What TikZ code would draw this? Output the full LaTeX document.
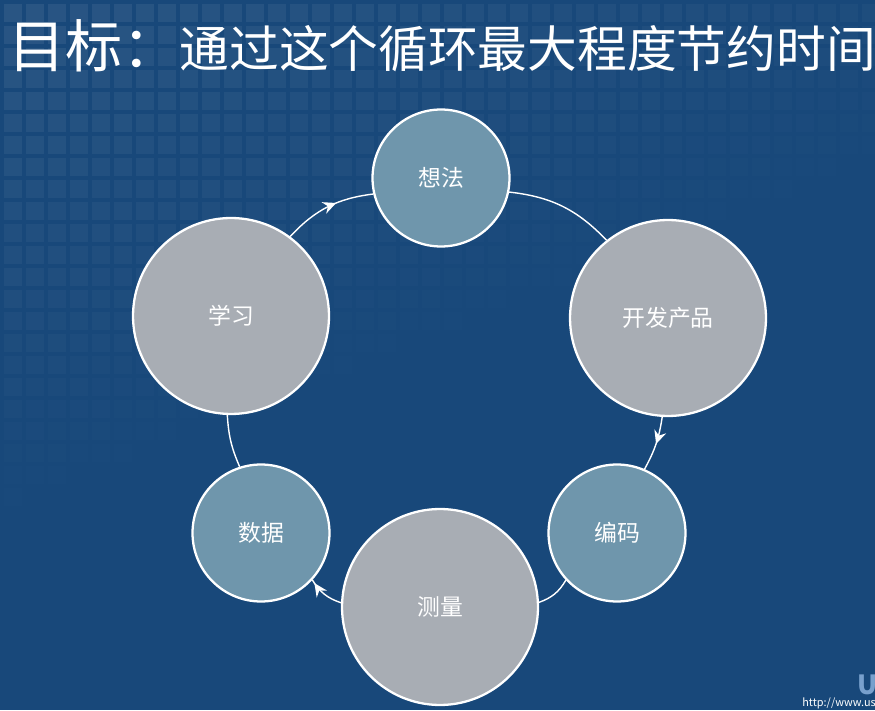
\documentclass[tikz,border=0pt]{standalone}
\usepackage{fontspec}
\setmainfont{Noto Sans CJK SC}
\usetikzlibrary{arrows.meta, decorations.markings}
\definecolor{bgblue}{RGB}{24,72,122}
\definecolor{ideafill}{RGB}{111,150,172}
\definecolor{stagefill}{RGB}{168,173,180}
\definecolor{markblue}{RGB}{120,160,205}
\tikzstyle{link} = [draw=white, line width=0.8pt]

\begin{document}
\begin{tikzpicture}[
  x=0.02cm, y=0.02cm,
  font=\fontsize{13}{15}\selectfont,
  smallcirc/.style={circle, draw=white, line width=1.3pt, fill=ideafill, text=white, minimum size=2.74cm, inner sep=0pt},
  bigcirc/.style={circle, draw=white, line width=1.3pt, fill=stagefill, text=white, minimum size=3.92cm, inner sep=0pt},
  midarrow/.style={postaction={decorate}, decoration={markings,
    mark=at position #1 with {\arrow{Stealth[length=7.5pt, width=7pt, inset=2.5pt]}}}}
]

% Background with faded tiles
\useasboundingbox (0,0) rectangle (875,710);
\clip (0,0) rectangle (875,710);
\fill[bgblue] (0,0) rectangle (875,710);
\foreach \i in {0,...,39}
  \foreach \j in {0,...,31} {
    \pgfmathsetmacro\op{max(0, 0.075*(1-\i/60-\j/24))}
    \ifdim\op pt>0pt
      \fill[white, opacity=\op] (4+22*\i, 706-22*\j) rectangle ++(18,-18);
    \fi
  }

% Title
\node[anchor=west, text=white, inner sep=0pt] (title) at (8,664)
  {{\fontsize{32.5}{36}\selectfont 目标：}{\fontsize{28.3}{32}\selectfont 通过这个循环最大程度节约时间}};

% Cycle stages
\node[smallcirc] (idea)    at (441,532) {想法};
\node[bigcirc]   (build)   at (668,392) {开发产品};
\node[smallcirc] (code)    at (617,177) {编码};
\node[bigcirc]   (measure) at (440,103) {测量};
\node[smallcirc] (data)    at (261,177) {数据};
\node[bigcirc]   (learn)   at (231,394) {学习};

% Connectors
\draw[link] (idea) to[bend left=20] (build);
\draw[link, midarrow=0.5] (build) to[bend left=10] (code);
\draw[link] (code) to[bend left=20] (measure);
\draw[link, midarrow=0.9] (measure) to[bend left=20] (data);
\draw[link] (data) to[bend left=10] (learn);
\draw[link, midarrow=0.6] (learn) to[bend left=20] (idea);

% Watermark
\node[anchor=west, text=markblue, inner sep=0pt] (wmark) at (857,25)
  {\fontsize{15}{17}\selectfont\bfseries\itshape U};
\node[anchor=south west, text=white, inner sep=0pt] (wurl) at (802,1)
  {\fontsize{6.2}{7}\selectfont http://www.us};

\end{tikzpicture}
\end{document}
